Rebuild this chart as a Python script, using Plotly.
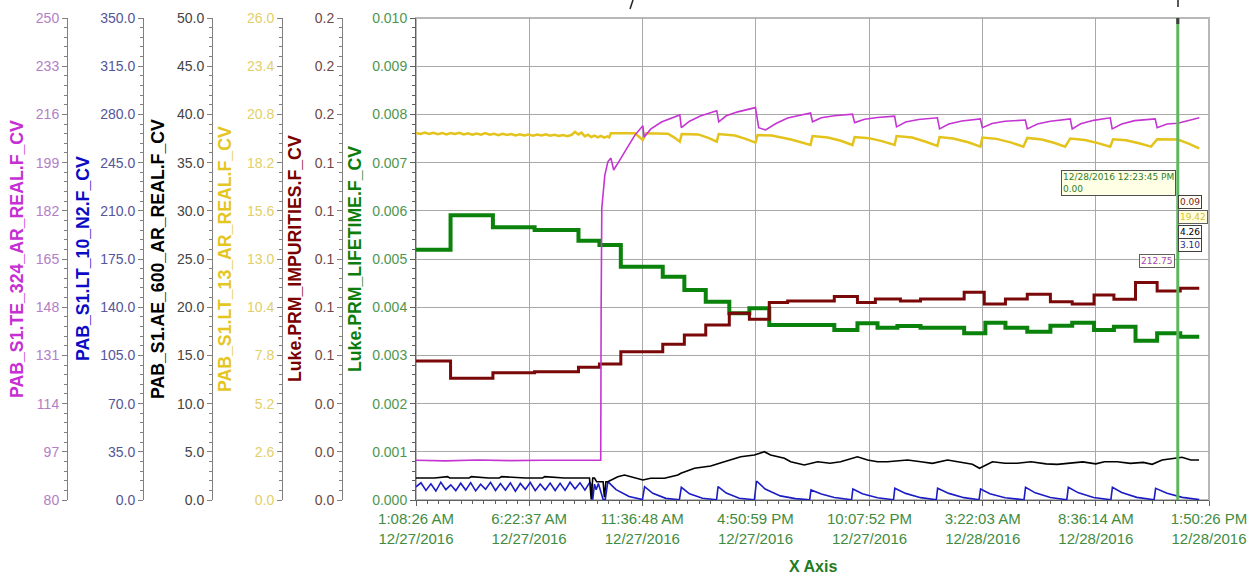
import plotly.graph_objects as go
from datetime import datetime, timedelta

# ---------------- data (time = hours after 2016-12-27 00:00) ----------------
BASE = datetime(2016, 12, 27)

X_RANGE = ["2016-12-27 01:08:26", "2016-12-28 13:50:26"]
X_TICKS = ["2016-12-27 01:08:26", "2016-12-27 06:22:37", "2016-12-27 11:36:48",
           "2016-12-27 16:50:59", "2016-12-27 22:07:52", "2016-12-28 03:22:03",
           "2016-12-28 08:36:14", "2016-12-28 13:50:26"]
X_TICK_TEXT = ["1:08:26 AM<br>12/27/2016", "6:22:37 AM<br>12/27/2016", "11:36:48 AM<br>12/27/2016",
               "4:50:59 PM<br>12/27/2016", "10:07:52 PM<br>12/27/2016", "3:22:03 AM<br>12/28/2016",
               "8:36:14 AM<br>12/28/2016", "1:50:26 PM<br>12/28/2016"]
CURSOR_TIME = "2016-12-28 12:23:45"

TE_TICKS = [80, 97, 114, 131, 148, 165, 182, 199, 216, 233, 250]
TE_TEXT = ["80", "97", "114", "131", "148", "165", "182", "199", "216", "233", "250"]
N2_TICKS = [0, 35, 70, 105, 140, 175, 210, 245, 280, 315, 350]
N2_TEXT = ["0.0", "35.0", "70.0", "105.0", "140.0", "175.0", "210.0", "245.0", "280.0", "315.0", "350.0"]
AE_TICKS = [0, 5, 10, 15, 20, 25, 30, 35, 40, 45, 50]
AE_TEXT = ["0.0", "5.0", "10.0", "15.0", "20.0", "25.0", "30.0", "35.0", "40.0", "45.0", "50.0"]
LT13_TICKS = [0, 2.6, 5.2, 7.8, 10.4, 13.0, 15.6, 18.2, 20.8, 23.4, 26.0]
LT13_TEXT = ["0.0", "2.6", "5.2", "7.8", "10.4", "13.0", "15.6", "18.2", "20.8", "23.4", "26.0"]
IMP_TICKS = [0, 0.02, 0.04, 0.06, 0.08, 0.10, 0.12, 0.14, 0.16, 0.18, 0.20]
IMP_TEXT = ["0.0", "0.0", "0.0", "0.1", "0.1", "0.1", "0.1", "0.1", "0.2", "0.2", "0.2"]
LIFE_TICKS = [0, 0.001, 0.002, 0.003, 0.004, 0.005, 0.006, 0.007, 0.008, 0.009, 0.010]
LIFE_TEXT = ["0.000", "0.001", "0.002", "0.003", "0.004", "0.005", "0.006", "0.007", "0.008", "0.009", "0.010"]

# PAB_S1.TE_324_AR_REAL.F_CV (purple)
TE_324 = [(1.14, 94.0), (2.5, 93.8), (4.0, 94.1), (5.5, 93.9), (7.0, 94.0), (8.5, 93.9), (9.69, 94.0),
          (9.71, 150.0), (9.74, 183.0), (9.88, 194.6), (10.02, 199.3), (10.16, 200.6), (10.29, 196.4),
          (10.57, 199.9), (10.94, 204.5), (11.27, 208.7), (11.64, 212.0), (11.70, 208.0), (12.0, 210.8),
          (12.5, 213.3), (13.35, 215.8), (13.42, 211.3), (13.8, 213.6), (14.3, 215.4), (15.06, 217.3),
          (15.15, 213.4), (15.5, 215.5), (16.03, 216.9), (16.85, 218.4), (17.0, 211.3), (17.32, 210.5),
          (17.8, 212.8), (18.34, 214.7), (19.40, 216.5), (19.49, 213.4), (19.9, 214.8), (20.5, 215.5),
          (21.34, 216.1), (21.44, 213.1), (21.9, 214.3), (22.5, 214.9), (23.29, 215.4), (23.38, 211.6),
          (23.8, 213.3), (24.4, 214.2), (25.27, 214.8), (25.37, 210.9), (25.8, 212.6), (26.4, 213.7),
          (27.26, 214.4), (27.35, 211.3), (27.8, 212.8), (28.4, 213.6), (29.34, 214.0), (29.43, 210.9),
          (29.9, 212.6), (30.5, 213.6), (31.42, 214.4), (31.51, 210.9), (31.9, 212.7), (32.5, 213.9),
          (33.27, 214.8), (33.36, 210.9), (33.8, 212.6), (34.4, 213.8), (35.35, 214.4), (35.44, 211.3),
          (35.9, 212.6), (36.4, 212.9), (37.39, 214.8)]

# PAB_S1.LT_10_N2.F_CV (blue)
LT_10_N2 = [(1.14, 9.5), (1.37, 12.5), (1.60, 7.0), (1.83, 11.8), (2.06, 6.5), (2.29, 12.9), (2.52, 7.5),
            (2.75, 11.0), (2.98, 6.8), (3.21, 12.2), (3.44, 7.2), (3.67, 12.6), (3.90, 6.6), (4.13, 11.5),
            (4.36, 7.8), (4.59, 12.8), (4.82, 6.9), (5.05, 11.9), (5.28, 7.1), (5.51, 12.4), (5.74, 6.4),
            (5.97, 12.0), (6.20, 7.6), (6.43, 12.7), (6.66, 6.8), (6.89, 11.6), (7.12, 7.3), (7.35, 12.3),
            (7.58, 6.9), (7.81, 12.1), (8.04, 7.0), (8.27, 12.9), (8.50, 8.0), (8.73, 12.5), (8.96, 7.2),
            (9.19, 13.0), (9.26, 10.5), (9.32, 0.3), (9.40, 11.5), (9.48, 7.5), (9.58, 12.0), (9.66, 8.0),
            (9.80, 0.4), (9.90, 0.3), (10.02, 13.3), (10.4, 7.5), (11.0, 2.6), (11.62, 0.3), (11.72, 9.7),
            (12.1, 4.9), (12.7, 1.2), (13.33, 0.2), (13.42, 9.2), (13.8, 4.5), (14.4, 1.3), (15.05, 0.2),
            (15.12, 9.7), (15.5, 5.0), (16.1, 1.3), (16.80, 0.2), (16.90, 13.8), (17.3, 8.0), (18.0, 3.0),
            (18.7, 1.0), (19.36, 0.2), (19.42, 7.3), (19.9, 4.3), (20.5, 1.8), (21.30, 0.2), (21.36, 8.0),
            (21.8, 4.5), (22.5, 1.6), (23.24, 0.2), (23.30, 8.5), (23.8, 4.8), (24.5, 1.7), (25.22, 0.2),
            (25.28, 8.5), (25.8, 4.8), (26.5, 1.7), (27.20, 0.2), (27.27, 8.0), (27.7, 4.6), (28.4, 1.6),
            (29.28, 0.2), (29.35, 9.2), (29.8, 5.2), (30.5, 1.8), (31.26, 0.2), (31.33, 9.2), (31.8, 5.2),
            (32.5, 1.8), (33.30, 0.2), (33.37, 9.2), (33.8, 5.4), (34.5, 1.9), (35.30, 0.2), (35.37, 8.5),
            (35.9, 4.9), (36.6, 1.9), (37.39, 0.3)]

# PAB_S1.AE_600_AR_REAL.F_CV (black)
AE_600 = [(1.14, 2.28), (2.0, 2.28), (2.6, 2.42), (2.7, 2.28), (3.6, 2.28), (3.7, 2.42), (4.5, 2.28),
          (5.0, 2.28), (5.1, 2.42), (6.2, 2.28), (7.0, 2.28), (7.1, 2.42), (8.0, 2.28), (8.4, 2.30),
          (9.17, 2.28), (9.25, 0.05), (9.32, 2.28), (9.40, 2.28), (9.50, 1.90), (9.69, 1.90), (9.80, 1.90),
          (9.86, 0.3), (9.93, 1.90), (10.02, 1.90), (10.48, 2.42), (10.79, 2.59), (11.40, 2.25),
          (11.64, 2.07), (12.0, 2.25), (12.64, 2.25), (13.26, 2.59), (13.40, 2.77), (14.03, 3.29),
          (14.78, 3.53), (15.41, 3.97), (16.17, 4.49), (16.80, 4.67), (17.26, 5.01), (17.55, 4.67),
          (18.19, 4.33), (18.48, 3.97), (19.11, 3.63), (19.73, 3.97), (20.30, 3.81), (20.79, 3.97),
          (21.57, 4.49), (22.04, 4.15), (22.50, 3.97), (22.96, 3.97), (23.89, 4.15), (24.5, 3.97),
          (25.04, 3.80), (25.74, 4.15), (26.3, 3.95), (26.89, 3.70), (27.22, 3.29), (27.82, 3.97),
          (28.4, 3.81), (28.97, 3.81), (29.6, 3.97), (30.3, 3.75), (30.82, 3.70), (31.4, 3.85),
          (32.0, 3.95), (32.6, 3.75), (33.0, 3.97), (33.59, 3.97), (34.2, 3.80), (34.8, 3.90),
          (35.21, 3.70), (35.67, 4.15), (36.0, 4.26), (36.59, 4.43), (37.0, 4.15), (37.38, 4.15)]

# PAB_S1.LT_13_AR_REAL.F_CV (gold)
LT_13 = [(1.14, 19.80), (1.35, 19.74), (1.55, 19.82), (1.75, 19.75), (1.95, 19.81), (2.15, 19.73),
         (2.35, 19.80), (2.55, 19.72), (2.75, 19.79), (2.95, 19.74), (3.15, 19.81), (3.35, 19.72),
         (3.55, 19.78), (3.75, 19.70), (3.95, 19.77), (4.15, 19.71), (4.35, 19.79), (4.55, 19.70),
         (4.75, 19.76), (4.95, 19.68), (5.15, 19.75), (5.35, 19.69), (5.55, 19.74), (5.75, 19.66),
         (5.95, 19.73), (6.15, 19.67), (6.35, 19.72), (6.55, 19.65), (6.75, 19.71), (6.95, 19.66),
         (7.15, 19.73), (7.35, 19.65), (7.55, 19.70), (7.75, 19.64), (7.95, 19.69), (8.15, 19.63),
         (8.35, 19.70), (8.50, 19.86), (8.65, 19.72), (8.80, 19.82), (8.95, 19.62), (9.10, 19.70),
         (9.25, 19.58), (9.40, 19.66), (9.55, 19.56), (9.70, 19.64), (9.85, 19.55), (10.00, 19.62),
         (10.08, 19.56), (10.16, 19.78), (11.27, 19.78), (11.50, 19.55), (11.64, 19.42), (11.78, 19.78),
         (12.8, 19.76), (13.1, 19.55), (13.35, 19.33), (13.44, 19.74), (14.2, 19.72), (14.7, 19.52),
         (15.06, 19.33), (15.15, 19.74), (15.9, 19.66), (16.4, 19.48), (16.85, 19.28), (16.95, 19.69),
         (17.6, 19.66), (18.5, 19.45), (19.40, 19.15), (19.49, 19.63), (20.2, 19.55), (20.8, 19.38),
         (21.34, 19.15), (21.44, 19.58), (22.1, 19.52), (22.7, 19.36), (23.29, 19.15), (23.38, 19.63),
         (24.1, 19.55), (24.7, 19.34), (25.27, 19.10), (25.37, 19.58), (26.0, 19.50), (26.7, 19.30),
         (27.26, 19.06), (27.35, 19.55), (28.0, 19.48), (28.7, 19.28), (29.25, 19.06), (29.43, 19.53),
         (30.1, 19.45), (30.7, 19.26), (31.18, 19.06), (31.42, 19.50), (32.1, 19.42), (32.7, 19.25),
         (33.27, 19.06), (33.40, 19.46), (34.0, 19.40), (34.6, 19.24), (35.16, 19.06), (35.44, 19.46),
         (36.4, 19.44), (36.9, 19.22), (37.39, 18.97)]

# Luke.PRM_IMPURITIES.F_CV (dark red, step)
IMPURITIES = [(1.14, 0.0577), (2.74, 0.0505), (4.70, 0.0528), (6.63, 0.0532), (8.66, 0.0551),
              (9.63, 0.0564), (10.62, 0.0615), (12.56, 0.0646), (13.56, 0.0685), (14.55, 0.0726),
              (15.64, 0.0775), (16.57, 0.0750), (17.49, 0.0820), (18.34, 0.0826), (20.50, 0.0844),
              (21.57, 0.0819), (22.40, 0.0834), (23.56, 0.0826), (24.49, 0.0834), (26.51, 0.0862),
              (27.44, 0.0813), (28.42, 0.0834), (29.43, 0.0854), (30.50, 0.0823), (31.51, 0.0813),
              (32.52, 0.0851), (33.44, 0.0833), (34.44, 0.0902), (35.44, 0.0867), (36.51, 0.0879),
              (37.39, 0.0879)]

# Luke.PRM_LIFETIME.F_CV (green, step)
LIFETIME = [(1.14, 0.00519), (2.74, 0.00591), (4.70, 0.00566), (6.63, 0.00560), (8.66, 0.00538),
            (9.63, 0.00529), (10.62, 0.00484), (12.56, 0.00463), (13.56, 0.004357), (14.55, 0.004114),
            (15.64, 0.003873), (16.57, 0.003977), (17.49, 0.00363), (20.50, 0.003527), (21.57, 0.003666),
            (22.50, 0.003575), (23.42, 0.00361), (24.49, 0.003575), (26.51, 0.00346), (27.49, 0.003678),
            (28.42, 0.003575), (29.43, 0.00349), (30.50, 0.003616), (31.51, 0.003678), (32.52, 0.003527),
            (33.44, 0.003596), (34.44, 0.003305), (35.44, 0.003458), (36.51, 0.003388), (37.39, 0.003388)]

CURSOR_LABELS = ["12/28/2016 12:23:45 PM<br>0.00", "0.09", "19.42", "4.26", "3.10", "212.75"]

# ---------------- helpers ----------------
W, H = 1251, 575
PL, PR, PT, PB = 416, 1209, 18, 500
FONT = "Liberation Sans, Arial, sans-serif"


def px(x):
    return x / W


def py(y):
    return (PB - y) / (PB - PT)


def split(series):
    return [BASE + timedelta(hours=h) for h, _ in series], [v for _, v in series]


fig = go.Figure()


def add(series, axis, color, width, shape="linear"):
    xs, ys = split(series)
    fig.add_trace(go.Scatter(x=xs, y=ys, yaxis=axis, mode="lines",
                             line=dict(color=color, width=width, shape=shape),
                             hoverinfo="skip", showlegend=False))


add(LIFETIME, "y", "#0b820b", 4, "hv")
add(LT_13, "y2", "#e3c31c", 2.5)
add(LT_10_N2, "y3", "#1c1cc4", 1.6)
add(AE_600, "y4", "#000000", 1.6)
add(IMPURITIES, "y5", "#7a0808", 3, "hv")
add(TE_324, "y6", "#c435d2", 1.6)

AXC = "#808080"


def yax(rng, tv, tt, minor_dtick, label_color, pos=None):
    d = dict(range=rng, tickmode="array", tickvals=tv, ticktext=tt,
             ticks="outside", ticklen=5, tickwidth=1, tickcolor=AXC,
             showline=True, linecolor=AXC, linewidth=1,
             tickfont=dict(color=label_color, size=14, family=FONT),
             showgrid=False, zeroline=False, fixedrange=True, automargin=False,
             minor=dict(tickmode="linear", tick0=rng[0], dtick=minor_dtick,
                        ticklen=3, tickcolor=AXC, showgrid=False))
    if pos is not None:
        d.update(overlaying="y", anchor="free", position=pos, side="left")
    return d


fig.update_layout(
    width=W, height=H,
    margin=dict(l=0, r=0, t=PT, b=H - PB, autoexpand=False),
    paper_bgcolor="white", plot_bgcolor="white",
    showlegend=False,
    xaxis=dict(domain=[px(PL), px(PR)], type="date", range=X_RANGE,
               tickmode="array", tickvals=X_TICKS, ticktext=X_TICK_TEXT,
               tickfont=dict(color="#3f8c3f", size=15, family=FONT),
               ticks="outside", ticklen=5, tickcolor="#606060",
               showline=True, linecolor="#606060", linewidth=1,
               showgrid=True, gridcolor="#a8a8a8", gridwidth=1,
               zeroline=False, fixedrange=True, automargin=False,
               minor=dict(tickmode="linear", tick0=X_RANGE[0], dtick=1887430,
                          ticklen=3, tickcolor="#606060", showgrid=False)),
    yaxis=dict(range=[0, 0.010], tickmode="array", tickvals=LIFE_TICKS, ticktext=LIFE_TEXT,
               ticks="outside", ticklen=5, tickcolor="#606060",
               showline=True, linecolor="#606060", linewidth=1,
               tickfont=dict(color="#4f964f", size=14, family=FONT),
               showgrid=True, gridcolor="#a8a8a8", gridwidth=1, zeroline=False,
               fixedrange=True, automargin=False,
               minor=dict(tickmode="linear", tick0=0, dtick=0.0002, ticklen=3,
                          tickcolor="#606060", showgrid=False)),
    yaxis2=yax([0, 26], LT13_TICKS, LT13_TEXT, 0.52, "#e2cf6a", px(282)),
    yaxis3=yax([0, 350], N2_TICKS, N2_TEXT, 7, "#55559a", px(143)),
    yaxis4=yax([0, 50], AE_TICKS, AE_TEXT, 1, "#444444", px(212)),
    yaxis5=yax([0, 0.2], IMP_TICKS, IMP_TEXT, 0.004, "#6e4848", px(342)),
    yaxis6=yax([80, 250], TE_TICKS, TE_TEXT, 3.4, "#b27ec6", px(67)),
)

# plot frame (top / right border)
fig.add_shape(type="rect", xref="paper", yref="paper", x0=px(PL), x1=px(PR), y0=0, y1=1,
              line=dict(color="#b8b8b8", width=2), layer="below")

# cursor line
fig.add_shape(type="line", xref="x", yref="paper", x0=CURSOR_TIME, x1=CURSOR_TIME, y0=0, y1=1,
              line=dict(color="#5cb85c", width=3), layer="above")
fig.add_shape(type="line", xref="x", yref="paper", x0=CURSOR_TIME, x1=CURSOR_TIME, y0=py(24), y1=1,
              line=dict(color="#404040", width=3), layer="above")
# small marks above the chart
fig.add_shape(type="line", xref="paper", yref="paper", x0=px(630), y0=py(9), x1=px(633), y1=py(0),
              line=dict(color="#222222", width=1.5))
fig.add_shape(type="line", xref="paper", yref="paper", x0=px(1178), y0=py(7), x1=px(1178), y1=py(0),
              line=dict(color="#222222", width=1.5))

# axis titles
titles = [("PAB_S1.TE_324_AR_REAL.F_CV", "#c52fd3", 17),
          ("PAB_S1.LT_10_N2.F_CV", "#0b0bc6", 83),
          ("PAB_S1.AE_600_AR_REAL.F_CV", "#000000", 158),
          ("PAB_S1.LT_13_AR_REAL.F_CV", "#e5c51f", 225),
          ("Luke.PRM_IMPURITIES.F_CV", "#7a0000", 295),
          ("Luke.PRM_LIFETIME.F_CV", "#0b7d0b", 355)]
for text, col, x in titles:
    fig.add_annotation(xref="paper", yref="paper", x=px(x), y=0.5, text="<b>%s</b>" % text,
                       textangle=-90, showarrow=False, xanchor="center", yanchor="middle",
                       font=dict(color=col, size=17.7, family=FONT))

fig.add_annotation(xref="paper", yref="paper", x=px(813), y=py(566), text="<b>X Axis</b>",
                   showarrow=False, xanchor="center", yanchor="middle",
                   font=dict(color="#1f7c1f", size=16, family=FONT))

# cursor readouts
BOXFONT = "DejaVu Sans, Verdana, sans-serif"
boxes = [(CURSOR_LABELS[0], 1176, 170, "right", "#2e7d2e", "#ffffe6", "#505050"),
         (CURSOR_LABELS[1], 1178, 195, "left", "#7b1c1c", "#fffff4", "#404040"),
         (CURSOR_LABELS[2], 1178, 210, "left", "#d8c030", "#ffffe0", "#606060"),
         (CURSOR_LABELS[3], 1178, 225, "left", "#000000", "#ffffff", "#404040"),
         (CURSOR_LABELS[4], 1178, 238, "left", "#2a2a98", "#fffff8", "#404040"),
         (CURSOR_LABELS[5], 1175, 254, "right", "#a844ba", "#fffff4", "#606060")]
for text, x, y, anchor, col, bg, bc in boxes:
    fig.add_annotation(xref="paper", yref="paper", x=px(x), y=py(y), text=text, showarrow=False,
                       xanchor=anchor, yanchor="top", align="left",
                       font=dict(color=col, size=9, family=BOXFONT),
                       bgcolor=bg, bordercolor=bc, borderwidth=1, borderpad=1)

fig.write_html("out.html", config={"displayModeBar": False},
               post_script="document.body.style.margin='0';")
